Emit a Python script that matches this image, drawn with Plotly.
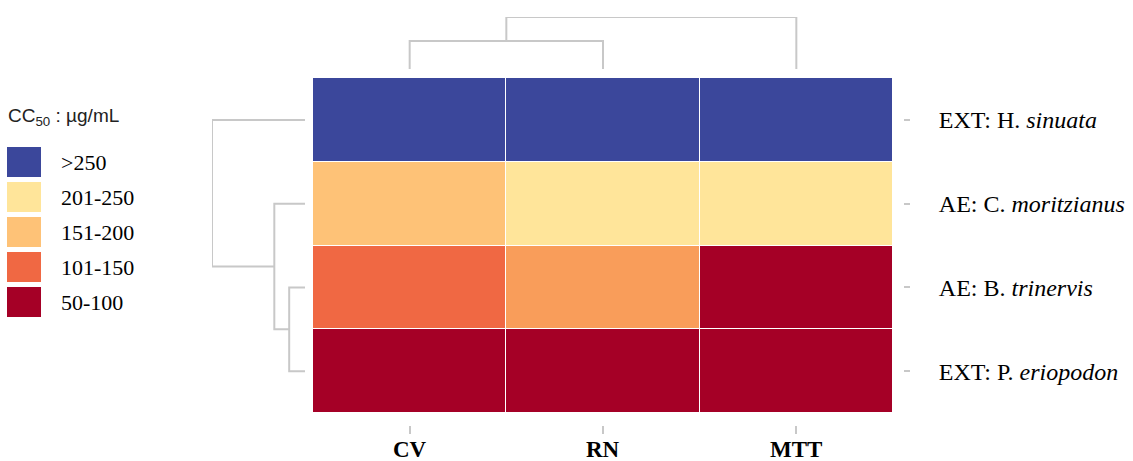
import plotly.graph_objects as go

# ---------------- data ----------------
assays = ["CV", "RN", "MTT"]
extracts = ["EXT: H. <i>sinuata</i>", "AE: C. <i>moritzianus</i>",
            "AE: B. <i>trinervis</i>", "EXT: P. <i>eriopodon</i>"]
# CC50 (µg/mL) per extract (rows) and assay (columns)
cc50_sinuata = [300, 300, 300]
cc50_moritzianus = [175, 225, 225]
cc50_trinervis = [125, 152, 75]
cc50_eriopodon = [75, 75, 75]

legend_labels = [">250", "201-250", "151-200", "101-150", "50-100"]
legend_values = [300, 225, 175, 125, 75]

# hierarchical clustering merges: (left node, right node, height); leaves are 0..n-1
row_linkage = [(2, 3, 0.17), (1, 4, 0.33), (0, 5, 1.0)]
col_linkage = [(0, 1, 0.54), (3, 2, 1.0)]

# ---------------- helpers ----------------
W, H = 1133, 461
def px_x(p): return p / W
def px_y(p): return (H - p) / H

def dendro_segments(linkage, n):
    pos = {i: float(i) for i in range(n)}
    hgt = {i: 0.0 for i in range(n)}
    xs, hs = [], []
    nid = n
    for a, b, h in linkage:
        xs += [pos[a], pos[a], pos[b], pos[b], None]
        hs += [hgt[a], h, h, hgt[b], None]
        pos[nid] = (pos[a] + pos[b]) / 2
        hgt[nid] = h
        nid += 1
    return xs, hs

colorscale = [
    [0.0, "#A50026"], [0.1, "#A50026"], [0.3, "#F06843"],
    [0.408, "#F99D5A"], [0.5, "#FEC277"], [0.7, "#FFE59A"], [1.0, "#3B479B"]
]

z = [cc50_sinuata, cc50_moritzianus, cc50_trinervis, cc50_eriopodon]

fig = go.Figure()
fig.add_trace(go.Heatmap(
    z=z, x=list(range(len(assays))), y=list(range(len(extracts))),
    colorscale=colorscale, zmin=50, zmax=300, showscale=False,
    xgap=1, ygap=1, hoverinfo="skip", xaxis="x", yaxis="y"))

# column dendrogram
cx, ch = dendro_segments(col_linkage, len(assays))
fig.add_trace(go.Scatter(x=cx, y=ch, mode="lines",
                         line=dict(color="#c8c8c8", width=2),
                         hoverinfo="skip", xaxis="x2", yaxis="y2", showlegend=False))
# row dendrogram
rp, rh = dendro_segments(row_linkage, len(extracts))
fig.add_trace(go.Scatter(x=rh, y=rp, mode="lines",
                         line=dict(color="#c8c8c8", width=2),
                         hoverinfo="skip", xaxis="x3", yaxis="y3", showlegend=False))

# legend as a small heatmap
fig.add_trace(go.Heatmap(
    z=[[v] for v in legend_values], x=[0], y=list(range(len(legend_values))),
    colorscale=colorscale, zmin=50, zmax=300, showscale=False,
    ygap=5, hoverinfo="skip", xaxis="x4", yaxis="y4"))

serif = "Liberation Serif, Times New Roman, serif"
hm_x = [px_x(313), px_x(893)]
hm_y = [px_y(413), px_y(78)]

annotations = [dict(text="CC<sub>50</sub> : µg/mL", x=px_x(6), y=px_y(117),
                    xref="paper", yref="paper", xanchor="left", yanchor="middle",
                    showarrow=False,
                    font=dict(family="Liberation Sans, Arial, sans-serif", size=19,
                              color="#222"))]
for i, a in enumerate(assays):
    annotations.append(dict(text=f"<b>{a}</b>", x=i, y=px_y(449), xref="x", yref="paper",
                            xanchor="center", yanchor="middle", showarrow=False,
                            font=dict(family=serif, size=23, color="black")))

fig.update_layout(
    width=W, height=H, margin=dict(l=0, r=0, t=0, b=0, autoexpand=False),
    paper_bgcolor="white", plot_bgcolor="white", showlegend=False,
    xaxis=dict(domain=hm_x, range=[-0.5, 2.5], anchor="free", position=px_y(425),
               automargin=False,
               tickvals=list(range(len(assays))), showticklabels=False,
               ticks="outside", ticklen=8, tickwidth=2, tickcolor="#c8c8c8",
               showgrid=False, zeroline=False, showline=False),
    yaxis=dict(domain=hm_y, range=[3.5, -0.5], anchor="free", position=px_x(903),
               automargin=False,
               side="right", tickvals=list(range(len(extracts))), ticktext=extracts,
               ticks="outside", ticklen=6, tickwidth=2, tickcolor="#c8c8c8",
               ticklabelstandoff=24,
               showgrid=False, zeroline=False, showline=False,
               tickfont=dict(family=serif, size=24, color="black")),
    xaxis2=dict(domain=hm_x, range=[-0.5, 2.5], anchor="y2", visible=False, automargin=False),
    yaxis2=dict(domain=[px_y(69), px_y(17)], range=[0, 1], anchor="x2", visible=False,
                automargin=False),
    xaxis3=dict(domain=[px_x(212), px_x(305)], range=[1, 0], anchor="y3", visible=False,
                automargin=False),
    yaxis3=dict(domain=hm_y, range=[3.5, -0.5], anchor="x3", visible=False, automargin=False),
    xaxis4=dict(domain=[px_x(7), px_x(41)], range=[-0.5, 0.5], anchor="y4", visible=False,
                automargin=False),
    yaxis4=dict(domain=[px_y(320), px_y(145)], range=[4.5, -0.5], anchor="x4",
                automargin=False,
                side="right", tickvals=list(range(len(legend_labels))),
                ticktext=legend_labels, ticks="", ticklabelstandoff=19,
                showgrid=False, zeroline=False, showline=False,
                tickfont=dict(family=serif, size=22, color="black")),
    annotations=annotations,
)

fig.write_html("out.html", config={"displayModeBar": False},
               post_script="document.body.style.margin='0px';")
